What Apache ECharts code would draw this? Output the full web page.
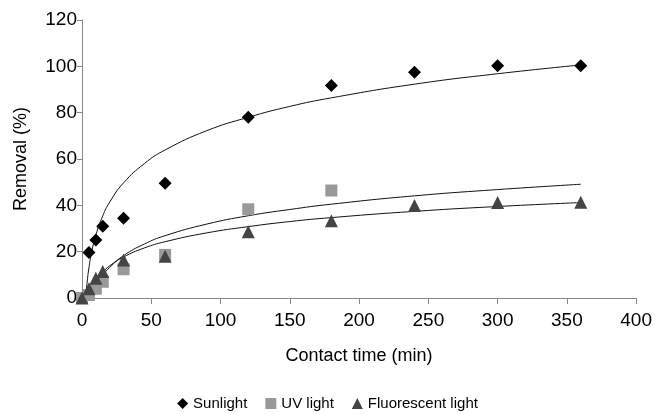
<!DOCTYPE html>
<html><head><meta charset="utf-8">
<script src="https://cdn.jsdelivr.net/npm/echarts@6/dist/echarts.min.js"></script>
<style>html,body{margin:0;padding:0;background:#fff}#c{width:655px;height:414px}</style>
</head><body><div id="c"></div>
<script>
const timesSun = [5, 10, 15, 30, 60, 120, 180, 240, 300, 360];
const sunlight = [19.6, 25, 31, 34.4, 49.5, 78, 91.7, 97.5, 100.2, 100.2];
const timesUV = [0, 5, 10, 15, 30, 60, 120, 180];
const uvLight = [0, 1.3, 4, 7, 12.4, 18.6, 38.3, 46.4];
const timesFl = [0, 5, 10, 15, 30, 60, 120, 180, 240, 300, 360];
const fluorescent = [0, 4, 8.5, 11.4, 16.4, 18, 28.6, 33.3, 39.9, 41.2, 41.3];

const trendSunT = [3, 4, 5, 7, 10, 15, 20, 30, 45, 60, 90, 120, 150, 180, 240, 300, 360];
const trendSun  = [2.5, 8.4, 13, 19.9, 27.2, 35.5, 41.4, 49.7, 58, 63.9, 72.2, 78, 82.7, 86.4, 92.3, 96.8, 100.6];
const trendUVT = [7, 10, 15, 20, 30, 45, 60, 90, 120, 150, 180, 240, 300, 360];
const trendUV  = [0.2, 4.7, 9.7, 13.2, 18.3, 23.3, 26.9, 31.9, 35.5, 38.2, 40.5, 44.1, 46.8, 49.1];
const trendFlT = [5, 7, 10, 15, 20, 30, 45, 60, 90, 120, 150, 180, 240, 300, 360];
const trendFl  = [0.7, 3.9, 7.3, 11.1, 13.9, 17.7, 21.6, 24.3, 28.1, 30.8, 33.0, 34.7, 37.4, 39.5, 41.2];

const zip = (a, b) => a.map((v, i) => [v, b[i]]);
const font = 'Liberation Sans, Arial, sans-serif';
const chart = echarts.init(document.getElementById('c'));
const trend = (name, t, v) => ({
  name, type: 'line', data: zip(t, v), smooth: true, showSymbol: false, symbol: 'none',
  lineStyle: { color: '#111', width: 1 }, z: 1, silent: true
});
chart.setOption({
  animation: false,
  grid: { left: 82, right: 14, top: 20, bottom: 116, containLabel: false },
  legend: {
    data: [
      { name: 'Sunlight', icon: 'diamond' },
      { name: 'UV light', icon: 'rect' },
      { name: 'Fluorescent light', icon: 'triangle' }
    ],
    top: 391, left: 'center', itemWidth: 11, itemHeight: 11, itemGap: 18,
    textStyle: { fontFamily: font, fontSize: 15, color: '#000' }
  },
  xAxis: {
    type: 'value', min: 0, max: 400, interval: 50,
    name: 'Contact time (min)', nameLocation: 'middle', nameGap: 49,
    nameTextStyle: { fontFamily: font, fontSize: 18, color: '#000' },
    axisLine: { show: true, lineStyle: { color: '#888' } },
    axisTick: { show: true, length: 6, lineStyle: { color: '#888' } },
    axisLabel: { fontFamily: font, fontSize: 19, color: '#000', margin: 13 },
    splitLine: { show: false }
  },
  yAxis: {
    type: 'value', min: 0, max: 120, interval: 20,
    name: 'Removal (%)', nameLocation: 'middle', nameGap: 52, nameRotate: 90,
    nameTextStyle: { fontFamily: font, fontSize: 18, color: '#000' },
    axisLine: { show: true, lineStyle: { color: '#888' } },
    axisTick: { show: true, length: 5, lineStyle: { color: '#888' } },
    axisLabel: { fontFamily: font, fontSize: 19, color: '#000', margin: 5 },
    splitLine: { show: false }
  },
  series: [
    trend('trendSun', trendSunT, trendSun),
    trend('trendUV', trendUVT, trendUV),
    trend('trendFl', trendFlT, trendFl),
    { name: 'UV light', type: 'scatter', symbol: 'rect', symbolSize: 12,
      itemStyle: { color: '#999', opacity: 1 }, data: zip(timesUV, uvLight), z: 3 },
    { name: 'Fluorescent light', type: 'scatter', symbol: 'triangle', symbolSize: 13,
      itemStyle: { color: '#444', opacity: 1 }, data: zip(timesFl, fluorescent), z: 4 },
    { name: 'Sunlight', type: 'scatter', symbol: 'diamond', symbolSize: 13,
      itemStyle: { color: '#000', opacity: 1 }, data: zip(timesSun, sunlight), z: 5 }
  ]
});
</script></body></html>
